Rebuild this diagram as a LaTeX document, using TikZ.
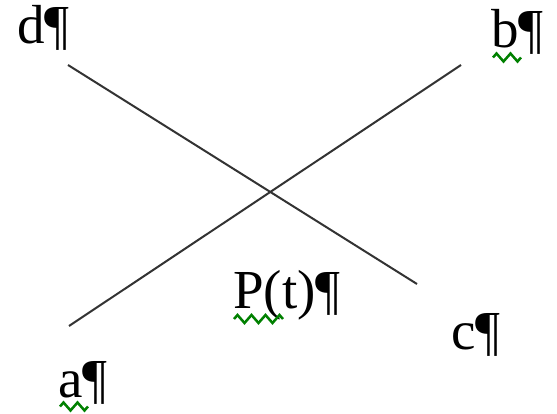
\documentclass[tikz,border=0pt]{standalone}
\usepackage{fontspec}
\setmainfont{Liberation Serif}
\usepackage{xcolor}
\definecolor{ink}{HTML}{333333}
\definecolor{squig}{HTML}{008000}
\usetikzlibrary{calc,decorations.pathmorphing}
\tikzset{
  lab/.style={font=\fontsize{55}{60}\selectfont,inner sep=0pt,anchor=base west},
  ln/.style={draw=ink,line width=2pt},
  wavy/.style={draw=squig,line width=2.5pt,decorate,decoration={zigzag,segment length=14pt,amplitude=4pt}},
}
\begin{document}
\begin{tikzpicture}[x=1pt,y=-1pt]
\useasboundingbox (0,0) rectangle (557,414);
% labels
\node[lab] (d) at (17,44) {d¶};
\node[lab] (b) at (491,48) {b¶};
\node[lab] (p) at (233,308) {P(t)¶};
\node[lab] (c) at (451,349) {c¶};
\node[lab] (a) at (58,397) {a¶};
% line ends
\coordinate (d0) at (68,65);
\coordinate (c0) at (417,284);
\coordinate (a0) at (69,326);
\coordinate (b0) at (461,65);
\draw[ln] (d0) -- (c0);
\draw[ln] (a0) -- (b0);
% squiggles
\draw[wavy] ($(b.base west)+(2,9.5)$) -- ++(28,0);
\draw[wavy] ($(a.base west)+(2,9.5)$) -- ++(28,0);
\draw[wavy] ($(p.base west)+(1,11)$) -- ++(49,0);
\end{tikzpicture}
\end{document}
